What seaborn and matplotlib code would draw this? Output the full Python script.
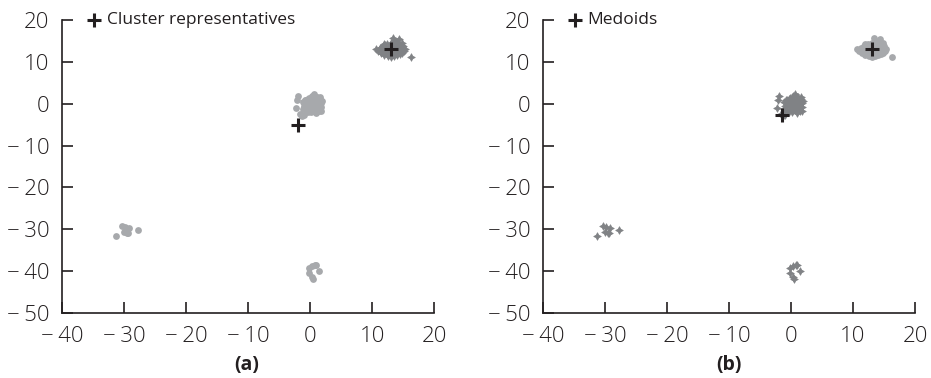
import numpy as np
import pandas as pd
import matplotlib
matplotlib.use("Agg")
import matplotlib.pyplot as plt
import seaborn as sns

# Upper-right cluster
tr_x = [10.6, 11.0, 11.3, 11.5, 11.8, 12.0, 12.2, 12.4, 12.5, 12.7, 12.9, 13.0, 13.1, 13.3, 13.5,
        13.6, 13.8, 14.0, 14.2, 14.4, 14.6, 14.8, 15.0, 15.2, 11.7, 12.1, 12.6, 13.2, 13.7, 14.1,
        14.5, 14.9, 12.3, 12.8, 13.4, 13.9, 14.3, 11.9, 12.4, 13.0, 13.6, 14.2, 14.7, 16.3, 13.4,
        12.0, 14.0, 15.3, 11.2, 12.9]
tr_y = [13.1, 12.6, 13.4, 12.2, 13.8, 11.7, 12.9, 14.2, 11.4, 13.5, 12.1, 14.6, 11.1, 13.0, 12.4,
        15.0, 13.7, 11.6, 14.1, 12.8, 13.3, 12.0, 13.9, 12.6, 12.4, 14.0, 12.2, 11.9, 14.5, 13.2,
        11.8, 14.6, 13.1, 12.7, 13.9, 12.3, 15.4, 13.2, 11.9, 13.3, 11.3, 12.5, 13.6, 11.2, 15.6,
        14.3, 14.8, 13.1, 12.9, 12.5]

# Central cluster
c_x = [-2.0, -2.1, -2.2, -1.6, -1.3, -1.0, -0.8, -0.6, -0.4, -0.2, 0.0, 0.2, 0.4, 0.6, 0.8,
       1.0, 1.2, 1.4, 1.6, 1.8, 1.9, -0.5, 0.1, 0.5, 0.9, 1.3, 1.7, -0.9, -0.3, 0.3,
       0.7, 1.1, 1.5, -0.1, 0.6, 1.0, -0.7, 0.2, 0.8, 1.4, -1.1, -0.6, 0.4, 1.2, 1.6,
       0.0, -0.4, -1.2, 0.9, 1.8]
c_y = [1.8, 0.9, -1.0, -2.5, -2.9, -2.6, 0.8, -1.5, 1.2, -0.4, 0.7, -2.0, 1.9, 2.3, -0.8,
       0.4, 1.6, -1.7, 1.5, -1.8, 0.6, 0.2, -1.1, -0.5, 1.0, -0.2, -0.9, -0.6, 0.5, 0.9,
       -1.4, -1.2, 0.3, 1.4, -0.3, 1.7, 0.0, 0.1, 0.6, 0.9, -1.3, 1.0, -1.6, -0.6, 1.1,
       -0.8, -1.9, 0.4, -2.2, 0.2]

# Small left cluster
l_x = [-31.3, -30.3, -29.8, -29.5, -30.0, -29.2, -27.7, -29.3]
l_y = [-31.6, -29.2, -29.5, -30.8, -30.7, -29.6, -30.2, -30.8]

# Small bottom cluster
b_x = [-0.2, 0.3, 1.0, 1.5, -0.2, 0.3, 0.5, 0.8]
b_y = [-39.2, -38.8, -38.5, -39.9, -40.5, -41.3, -41.8, -38.6]

# Representative points
rep_a_x = [13.0, -2.0]
rep_a_y = [13.0, -5.0]
rep_b_x = [13.0, -1.4]
rep_b_y = [13.0, -2.7]

x_ticks = [-40, -30, -20, -10, 0, 10, 20]
y_ticks = [-50, -40, -30, -20, -10, 0, 10, 20]

light = "#a7a9ac"
dark = "#808285"
ink = "#231f20"
star = (4, 1, 0)

sns.set_style("white")
plt.rcParams["font.family"] = ["Open Sans", "DejaVu Sans"]

fig = plt.figure(figsize=(9.31, 3.78), dpi=100)
ax_a = fig.add_axes([62 / 931, 1 - 313 / 378, 372 / 931, 293 / 378])
ax_b = fig.add_axes([543 / 931, 1 - 313 / 378, 372 / 931, 293 / 378])

top = pd.DataFrame({"x": tr_x, "y": tr_y})
rest = pd.DataFrame({"x": c_x + l_x + b_x, "y": c_y + l_y + b_y})


def fmt(v):
    return f"\u2212\u2009{abs(v)}" if v < 0 else f"{v}"


def panel(ax, star_df, dot_df, rx, ry, label, tag_x, tag):
    sns.scatterplot(data=dot_df, x="x", y="y", ax=ax, color=light, marker="o",
                    s=24, linewidth=0, legend=False)
    sns.scatterplot(data=star_df, x="x", y="y", ax=ax, color=dark, marker=star,
                    s=30, linewidth=0.5, edgecolor=dark, legend=False)
    sns.scatterplot(x=rx, y=ry, ax=ax, color=ink, marker="+", s=110,
                    linewidth=2.2, label=label)
    ax.set_xlim(-40, 20)
    ax.set_ylim(-50, 20)
    ax.set_xticks(x_ticks)
    ax.set_xticklabels([fmt(v) for v in x_ticks])
    ax.set_yticks(y_ticks)
    ax.set_yticklabels([fmt(v) for v in y_ticks])
    ax.set_xlabel("")
    ax.set_ylabel("")
    for s in ("top", "right"):
        ax.spines[s].set_visible(False)
    for s in ("left", "bottom"):
        ax.spines[s].set_color(ink)
        ax.spines[s].set_linewidth(1.2)
    ax.tick_params(bottom=True, left=True, direction="in", length=8, width=1.2,
                   color=ink, labelsize=16, labelcolor=ink)
    ax.tick_params(axis="x", pad=9)
    ax.tick_params(axis="y", pad=9)
    for t in ax.get_xticklabels() + ax.get_yticklabels():
        t.set_fontweight("light")
    leg = ax.legend(loc="center left", bbox_to_anchor=(0.045, 1.0), frameon=False,
                    fontsize=12.5, handletextpad=0.2, borderaxespad=0,
                    handlelength=1.0, markerscale=0.9)
    for t in leg.get_texts():
        t.set_color(ink)
    fig.text(tag_x / 931, 1 - 365 / 378, tag, ha="center", va="center",
             fontsize=14, fontweight="bold", color=ink)


panel(ax_a, top, rest, rep_a_x, rep_a_y, "Cluster representatives", 247, "(a)")
panel(ax_b, rest, top, rep_b_x, rep_b_y, "Medoids", 729, "(b)")

fig.savefig("out.png", dpi=100, facecolor="white")
